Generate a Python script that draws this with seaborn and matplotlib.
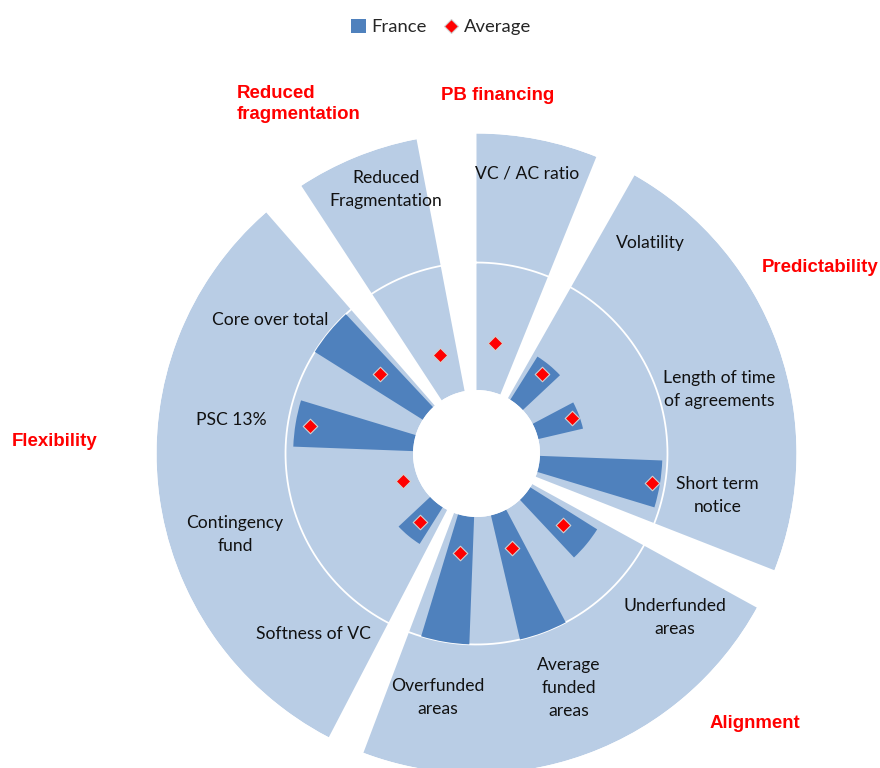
import matplotlib.pyplot as plt
import numpy as np
import pandas as pd
import seaborn as sns
from matplotlib.lines import Line2D
from matplotlib.patches import Patch

# indicator scores (0 = inner hole, 1 = white ring)
indicators = ['VC / AC ratio', 'Volatility', 'Length of time\nof agreements', 'Short term\nnotice',
              'Underfunded\nareas', 'Average\nfunded\nareas', 'Overfunded\nareas', 'Softness of VC',
              'Contingency\nfund', 'PSC 13%', 'Core over total', 'Reduced\nFragmentation']
france = [0, 0.40, 0.36, 0.96, 0.62, 1.0, 1.0, 0.34, 0, 0.94, 1.0, 0]
average = [0.38, 0.31, 0.30, 0.90, 0.38, 0.29, 0.29, 0.20, 0.12, 0.83, 0.48, 0.33]

groups = ['PB financing', 'Predictability', 'Alignment', 'Flexibility', 'Reduced\nfragmentation']
group_sizes = [1, 3, 3, 4, 1]

BLUE = '#4F81BD'
LIGHT = '#B9CDE5'
RED = '#FF0000'

sns.set_style('white')
plt.rcParams['font.family'] = ['Lato', 'DejaVu Sans']

df = pd.DataFrame({'indicator': indicators, 'france': france, 'average': average})
slot = 360 / len(df)
df['theta'] = np.deg2rad(-5.5 + slot * (np.arange(len(df)) + 0.5))

fig = plt.figure(figsize=(8.8, 7.68), dpi=100)
ax = fig.add_axes([156.5 / 880, -5.5 / 768, 640 / 880, 640 / 768], projection='polar')
ax.set_theta_zero_location('N')
ax.set_theta_direction(-1)

r_max = 2.012
ax.set_rorigin(-0.498)

# background sectors, one per group, with gaps in between
group_edges = [(0, 22), (29.6, 111.4), (118.8, 200.7), (207.5, 318.9), (326.8, 349.2)]
for a0, a1 in group_edges:
    ax.bar(np.deg2rad((a0 + a1) / 2), r_max, width=np.deg2rad(a1 - a0), bottom=0,
           color=LIGHT, edgecolor='none', zorder=1)

# white ring at score 1
ring = np.linspace(0, 2 * np.pi, 400)
ax.plot(ring, np.ones_like(ring), color='white', lw=1.3, zorder=2)

# France bars
ax.bar(df['theta'], df['france'], width=np.deg2rad(14.7), bottom=0,
       color=BLUE, edgecolor='none', zorder=3)

# Average diamonds
sns.scatterplot(data=df, x='theta', y='average', ax=ax, marker='D', s=55,
                color=RED, edgecolor='#d0d0d0', linewidth=0.8, zorder=4, legend=False)

# indicator labels
label_theta = [10.2, 39.6, 75.3, 99.8, 129.5, 158.5, 189, 222.2, 251.4, 277.8, 302.9, 341]
label_r = [1.73, 1.64, 1.47, 1.42, 1.52, 1.48, 1.44, 1.41, 1.50, 1.44, 1.43, 1.69]
for name, t, r in zip(df['indicator'], label_theta, label_r):
    ax.text(np.deg2rad(t), r, name, ha='center', va='center', fontsize=12.6,
            color='#111111', linespacing=1.55, zorder=5)

ax.set_ylim(0, r_max)
ax.set_axis_off()

# group titles
group_pos = [(498, 96), (820, 267), (755, 724), (55, 442), (237, 104)]
for name, (x, y) in zip(groups, group_pos):
    ha = 'left' if '\n' in name else 'center'
    fig.text(x / 880, 1 - y / 768, name, ha=ha, va='center', color=RED, fontsize=13.4,
             fontweight='bold', family=['Liberation Sans', 'DejaVu Sans'], linespacing=1.3)

handles = [Patch(facecolor=BLUE, edgecolor='none'),
           Line2D([], [], marker='D', linestyle='none', markersize=7, markerfacecolor=RED,
                  markeredgecolor='#d0d0d0', markeredgewidth=0.8)]
fig.legend(handles, ['France', 'Average'], loc='center', bbox_to_anchor=(441 / 880, 1 - 27 / 768),
           ncol=2, frameon=False, fontsize=13.3, handlelength=0.8, handleheight=0.8,
           handletextpad=0.3, columnspacing=0.9)

fig.savefig('out.png', dpi=100)
